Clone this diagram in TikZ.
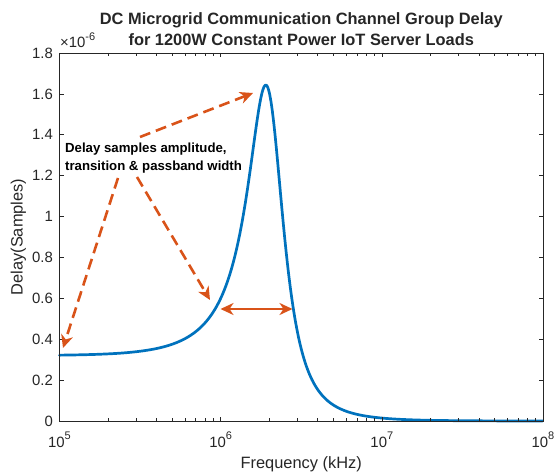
\documentclass[tikz,border=0pt]{standalone}
\usepackage{fontspec}
\setmainfont{Liberation Sans}
\usetikzlibrary{arrows.meta}

\definecolor{axisgray}{rgb}{0.15,0.15,0.15}
\definecolor{curveblue}{rgb}{0,0.447,0.741}
\definecolor{annot}{rgb}{0.851,0.325,0.098}

% axes frame in pt: x from 59.5 to 543 (three decades), y from 51 to 419 (0 .. 1.8e-6)
\newcommand{\AxL}{59.5}
\newcommand{\AxR}{543}
\newcommand{\AxB}{51}
\newcommand{\AxT}{419}
\newcommand{\Dec}{161.167}
\newcommand{\Vu}{204.444}
\newcommand{\Fz}{1.3035}

\tikzset{
  frame/.style={draw=axisgray, line width=0.6pt},
  tickline/.style={draw=axisgray, line width=0.6pt},
  ticklabel/.style={text=axisgray, inner sep=0pt, font=\fontsize{14.9}{14.9}\selectfont},
  axlabel/.style={text=axisgray, inner sep=0pt, font=\fontsize{16.4}{16.4}\selectfont},
  curve/.style={draw=curveblue, line width=2.7pt, line join=round, line cap=round},
  barb/.tip={Stealth[length=13pt, width=12pt, inset=4pt]},
  dasharrow/.style={draw=annot, line width=2.6pt, dash pattern=on 11pt off 6pt, -{barb[fill=annot]}},
  spanarrow/.style={draw=annot, line width=2.6pt, {barb[fill=annot]}-{barb[fill=annot]}},
}

\begin{document}
\begin{tikzpicture}[x=1pt, y=1pt,
  declare function={
    tlo(\t)=(1+pow(10,2*\t))/((1-pow(10,2*\t))^2+0.4*pow(10,2*\t));
    thi(\t)=(pow(10,-2*\t)+pow(10,-4*\t))/((pow(10,-2*\t)-1)^2+0.4*pow(10,-2*\t));
  }]
\useasboundingbox (0,0) rectangle (555,472);

% group delay curve (second-order response around the resonance)
\draw[curve]
  plot[domain=-\Fz:0, samples=220, variable=\t]
    ({\AxL+\Dec*(\t+\Fz)}, {\AxB+\Vu*0.32*tlo(\t)})
  -- plot[domain=0:3-\Fz, samples=200, variable=\t]
    ({\AxL+\Dec*(\t+\Fz)}, {\AxB+\Vu*0.32*thi(\t)});

% frame
\draw[frame] (\AxL,\AxB) rectangle (\AxR,\AxT);

% y ticks and labels
\foreach \v [count=\i] in {0,0.2,0.4,0.6,0.8,1,1.2,1.4,1.6,1.8} {
  \draw[tickline] (\AxL,{\AxB+\Vu*\v}) -- ++(4.5,0);
  \draw[tickline] (\AxR,{\AxB+\Vu*\v}) -- ++(-4.5,0);
  \node[ticklabel, anchor=east] (ylab\i) at (53,{\AxB+\Vu*\v}) {\v};
}

% x major ticks and labels
\foreach \d [evaluate=\d as \e using int(\d+5)] in {0,1,2,3} {
  \draw[tickline] ({\AxL+\Dec*\d},\AxB) -- ++(0,4.5);
  \draw[tickline] ({\AxL+\Dec*\d},\AxT) -- ++(0,-4.5);
  \node[ticklabel, anchor=base] (xlab\d) at ({\AxL+\Dec*\d},25)
    {10\raisebox{0.48em}{\fontsize{11}{11}\selectfont\e}};
}

% x minor ticks
\foreach \d in {0,1,2} {
  \foreach \k in {2,...,9} {
    \draw[tickline] ({\AxL+\Dec*(\d+log10(\k))},\AxB) -- ++(0,3);
    \draw[tickline] ({\AxL+\Dec*(\d+log10(\k))},\AxT) -- ++(0,-3);
  }
}

% exponent marker
\node[ticklabel, anchor=base west] (expo) at (60,424)
  {×10\raisebox{0.48em}{\fontsize{11}{11}\selectfont -6}};

% axis labels and title
\node[axlabel, anchor=base] (xtitle) at (301.25,4) {Frequency (kHz)};
\node[axlabel, rotate=90] (ytitle) at (18.5,235) {Delay(Samples)};
\node[axlabel, anchor=north, align=center, font=\bfseries\fontsize{16.4}{21}\selectfont]
  (title) at (301.25,460)
  {DC Microgrid Communication Channel Group Delay\\for 1200W Constant Power IoT Server Loads};

% annotation
\node[anchor=north west, inner sep=0pt, align=left,
      font=\bfseries\fontsize{13.2}{18.5}\selectfont] (note) at (65,329.5)
  {Delay samples amplitude,\\transition \& passband width};

\coordinate (s1) at (140,335);
\coordinate (peak) at (253,379);
\coordinate (s2) at (118,294);
\coordinate (base) at (63,124);
\coordinate (s3) at (137,295);
\coordinate (knee) at (210,172);
\coordinate (bwl) at (220.5,163);
\coordinate (bwr) at (292.5,163);

\draw[dasharrow] (s1) -- (peak);
\draw[dasharrow] (s2) -- (base);
\draw[dasharrow] (s3) -- (knee);
\draw[spanarrow] (bwl) -- (bwr);
\end{tikzpicture}
\end{document}
